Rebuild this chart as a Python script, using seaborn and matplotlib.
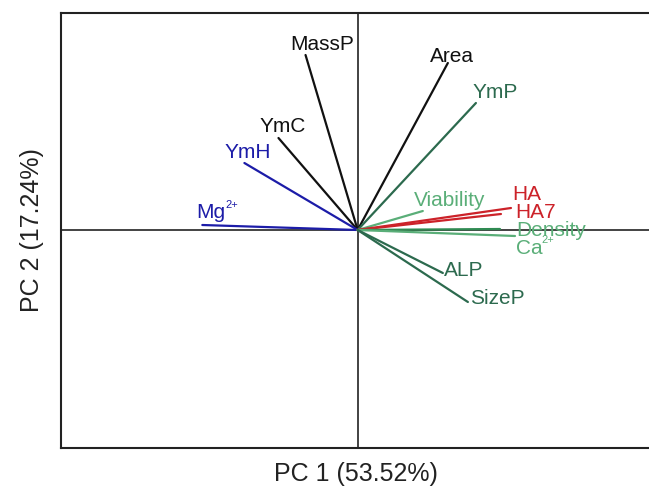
import matplotlib
matplotlib.use("Agg")
import matplotlib.pyplot as plt
import seaborn as sns
import pandas as pd

sns.set_style("white")
plt.rcParams['font.family'] = ['Liberation Sans', 'DejaVu Sans']

# PCA loadings (PC1, PC2)
variables = ["MassP", "Area", "YmP", "YmC", "YmH", "Mg", "Viability",
             "HA", "HA7", "Density", "Ca", "ALP", "SizeP"]
labels = ["MassP", "Area", "YmP", "YmC", "YmH", "Mg", "Viability",
          "HA", "HA7", "Density", "Ca", "ALP", "SizeP"]
superscripts = ["", "", "", "", "", "2+", "", "", "", "", "2+", "", ""]
pc1 = [-0.52, 0.90, 1.18, -0.79, -1.13, -1.55, 0.65,
       1.53, 1.43, 1.42, 1.57, 0.85, 1.10]
pc2 = [1.75, 1.67, 1.27, 0.92, 0.67, 0.05, 0.19,
       0.22, 0.16, 0.01, -0.06, -0.43, -0.72]
x_label = "PC 1 (53.52%)"
y_label = "PC 2 (17.24%)"

BLACK = "#111111"
BLUE = "#1c1ca8"
DGREEN = "#2c6a4e"
MGREEN = "#2f8a52"
LGREEN = "#5aae78"
RED = "#cc2229"
line_colors = [BLACK, BLACK, DGREEN, BLACK, BLUE, BLUE, LGREEN,
               RED, RED, MGREEN, LGREEN, DGREEN, DGREEN]
text_colors = [BLACK, BLACK, DGREEN, BLACK, BLUE, BLUE, LGREEN,
               RED, RED, LGREEN, LGREEN, DGREEN, DGREEN]
# label offsets in pixels (dx, dy up)
offsets = [(17, 11), (4, 6), (19, 10), (4, 11), (3, 11), (9, 12), (27, 10),
           (16, 14), (35, 1), (51, -2), (14, -12), (21, 2), (29, 3)]
sup_offsets = [None, None, None, None, None, (30, 20), None,
               None, None, None, (33, -4), None, None]

rows = []
for v, x, y in zip(variables, pc1, pc2):
    rows.append({"var": v, "PC1": 0.0, "PC2": 0.0})
    rows.append({"var": v, "PC1": x, "PC2": y})
df = pd.DataFrame(rows)

fig = plt.figure(figsize=(6.49, 4.95), dpi=100)
ax = fig.add_axes([61 / 649, 1 - 448 / 495, 1 - 61 / 649 + 0.002, (448 - 13) / 495])

ax.axhline(0, color="#222222", lw=1.2, zorder=1)
ax.axvline(0, color="#222222", lw=1.2, zorder=1)

sns.lineplot(data=df, x="PC1", y="PC2", hue="var", hue_order=variables,
             palette=dict(zip(variables, line_colors)), estimator=None,
             sort=False, legend=False, lw=1.6, ax=ax, zorder=2)

for lab, sup, x, y, c, (dx, dy), so in zip(labels, superscripts, pc1, pc2,
                                           text_colors, offsets, sup_offsets):
    ax.annotate(lab, (x, y), xytext=(dx, dy), textcoords="offset pixels",
                ha="center", va="center", color=c, fontsize=15)
    if sup:
        ax.annotate(sup, (x, y), xytext=so, textcoords="offset pixels",
                    ha="center", va="center", color=c, fontsize=8)

ax.set_xlim(-2.96, 2.92)
ax.set_ylim(-2.18, 2.17)
ax.set_xticks([])
ax.set_yticks([])
ax.set_xlabel(x_label, fontsize=18, color="#222222", labelpad=10)
ax.set_ylabel(y_label, fontsize=18, color="#222222", labelpad=12)
for s in ["left", "top", "bottom"]:
    ax.spines[s].set_color("#222222")
    ax.spines[s].set_linewidth(1.5)
ax.spines["right"].set_visible(False)

fig.savefig("out.png", dpi=100)
